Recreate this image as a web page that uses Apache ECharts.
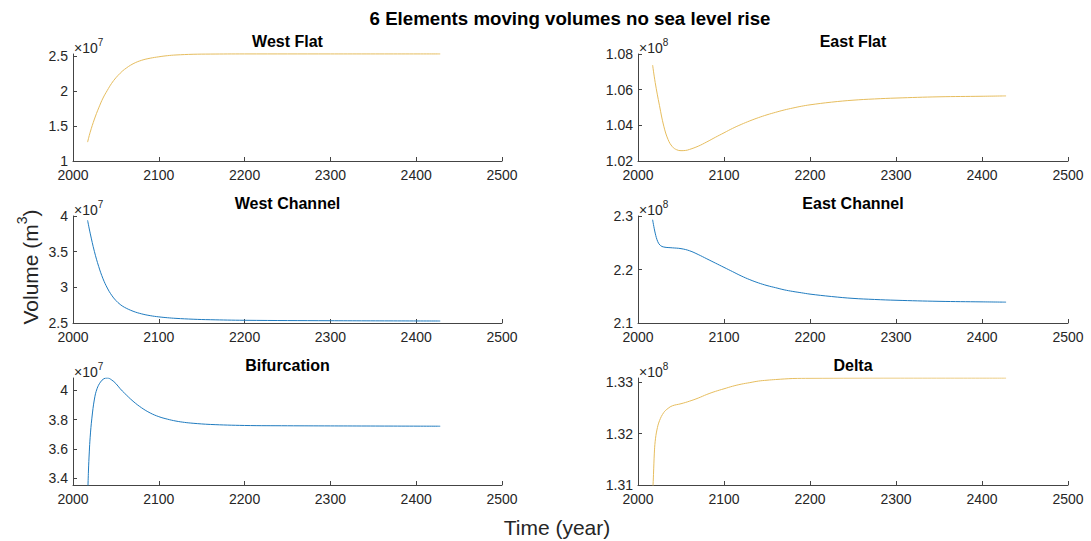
<!DOCTYPE html>
<html>
<head>
<meta charset="utf-8">
<script src="https://cdn.jsdelivr.net/npm/echarts@6/dist/echarts.min.js"></script>
<style>
  html, body { margin: 0; padding: 0; background: #fff; }
  #chart { width: 1091px; height: 541px; }
</style>
</head>
<body>
<div id="chart"></div>
<script>
// Model output: volumes of the six elements (no sea level rise)
// Values are in units of the exponent shown at the top of each axis.

const xTicks = [2000, 2100, 2200, 2300, 2400, 2500];

// West Flat (x 1e7)
const westFlatYears = [2017, 2020, 2025, 2030, 2035, 2040, 2045, 2050, 2055, 2060, 2070, 2080, 2090, 2100, 2110, 2120, 2140, 2160, 2200, 2300, 2428];
const westFlatVol   = [1.27, 1.41, 1.60, 1.76, 1.90, 2.01, 2.11, 2.19, 2.255, 2.31, 2.39, 2.44, 2.47, 2.49, 2.506, 2.516, 2.526, 2.529, 2.531, 2.531, 2.531];
const westFlatTicks = [1, 1.5, 2, 2.5];

// East Flat (x 1e8)
const eastFlatYears = [2017, 2020, 2025, 2030, 2035, 2040, 2045, 2050, 2055, 2060, 2070, 2080, 2090, 2100, 2110, 2120, 2130, 2140, 2150, 2160, 2170, 2180, 2190, 2200, 2225, 2250, 2275, 2300, 2350, 2400, 2428];
const eastFlatVol   = [1.0738, 1.064, 1.051, 1.0395, 1.032, 1.028, 1.0263, 1.0258, 1.0259, 1.0265, 1.0283, 1.0307, 1.0333, 1.0358, 1.0383, 1.0405, 1.0425, 1.0443, 1.0459, 1.0473, 1.0486, 1.0497, 1.0507, 1.0515, 1.0530, 1.0541, 1.0548, 1.0553, 1.0560, 1.0563, 1.0565];
const eastFlatTicks = [1.02, 1.04, 1.06, 1.08];

// West Channel (x 1e7)
const westChanYears = [2017, 2020, 2025, 2030, 2035, 2040, 2045, 2050, 2055, 2060, 2070, 2080, 2090, 2100, 2110, 2120, 2140, 2160, 2200, 2300, 2428];
const westChanVol   = [3.94, 3.76, 3.50, 3.29, 3.12, 2.99, 2.89, 2.815, 2.76, 2.72, 2.665, 2.628, 2.603, 2.586, 2.574, 2.565, 2.553, 2.546, 2.538, 2.532, 2.528];
const westChanTicks = [2.5, 3, 3.5, 4];

// East Channel (x 1e8)
const eastChanYears = [2017, 2020, 2023, 2026, 2030, 2040, 2050, 2060, 2070, 2080, 2090, 2100, 2110, 2120, 2130, 2140, 2150, 2160, 2170, 2180, 2190, 2200, 2225, 2250, 2275, 2300, 2350, 2400, 2428];
const eastChanVol   = [2.293, 2.268, 2.252, 2.245, 2.242, 2.2405, 2.239, 2.235, 2.228, 2.220, 2.212, 2.204, 2.196, 2.188, 2.181, 2.175, 2.170, 2.166, 2.162, 2.159, 2.1565, 2.154, 2.1495, 2.146, 2.144, 2.1425, 2.1405, 2.1395, 2.139];
const eastChanTicks = [2.1, 2.2, 2.3];

// Bifurcation (x 1e7)
const bifYears = [2017, 2018, 2019, 2020, 2022, 2025, 2028, 2032, 2036, 2040, 2045, 2050, 2055, 2060, 2070, 2080, 2090, 2100, 2110, 2120, 2130, 2140, 2160, 2200, 2250, 2300, 2428];
const bifVol   = [3.25, 3.45, 3.58, 3.68, 3.81, 3.94, 4.01, 4.055, 4.078, 4.083, 4.07, 4.045, 4.01, 3.98, 3.925, 3.88, 3.845, 3.82, 3.803, 3.79, 3.781, 3.775, 3.767, 3.76, 3.758, 3.757, 3.755];
const bifTicks = [3.4, 3.6, 3.8, 4];

// Delta (x 1e8)
const deltaYears = [2017, 2018, 2019, 2020, 2022, 2025, 2030, 2035, 2040, 2050, 2060, 2070, 2080, 2090, 2100, 2110, 2120, 2130, 2140, 2150, 2160, 2180, 2200, 2300, 2428];
const deltaVol   = [1.308, 1.312, 1.3162, 1.3185, 1.3207, 1.3225, 1.3241, 1.3249, 1.3254, 1.3258, 1.3263, 1.3269, 1.3276, 1.3282, 1.3287, 1.3292, 1.3296, 1.3299, 1.3302, 1.33037, 1.3305, 1.3307, 1.33075, 1.3308, 1.3308];
const deltaTicks = [1.31, 1.32, 1.33];

const BLUE = '#1f7bbf';
const GOLD = '#e6bd5e';
const FONT = '"Liberation Sans", Arial, Helvetica, sans-serif';
const AXIS_COLOR = '#444444';
const TEXT_COLOR = '#262626';

// Panel layout: two columns, three rows
const colLeft = [73, 638];
const colWidth = [429, 430];
const rowTop = [54, 216, 378];
const rowHeight = 107;

const panels = [
  { title: 'West Flat',    years: westFlatYears, vol: westFlatVol, ticks: westFlatTicks, min: 1,     max: 2.53,   exp: '7', color: GOLD, col: 0, row: 0, clip: false },
  { title: 'East Flat',    years: eastFlatYears, vol: eastFlatVol, ticks: eastFlatTicks, min: 1.02,  max: 1.08,   exp: '8', color: GOLD, col: 1, row: 0, clip: true },
  { title: 'West Channel', years: westChanYears, vol: westChanVol, ticks: westChanTicks, min: 2.5,   max: 4,      exp: '7', color: BLUE, col: 0, row: 1, clip: true },
  { title: 'East Channel', years: eastChanYears, vol: eastChanVol, ticks: eastChanTicks, min: 2.1,   max: 2.3,    exp: '8', color: BLUE, col: 1, row: 1, clip: true },
  { title: 'Bifurcation',  years: bifYears,      vol: bifVol,      ticks: bifTicks,      min: 3.355, max: 4.083,  exp: '7', color: BLUE, col: 0, row: 2, clip: true },
  { title: 'Delta',        years: deltaYears,    vol: deltaVol,    ticks: deltaTicks,    min: 1.31,  max: 1.3308, exp: '8', color: GOLD, col: 1, row: 2, clip: true }
];

const grids = [], xAxes = [], yAxes = [], series = [], texts = [];

panels.forEach((p, i) => {
  const left = colLeft[p.col], top = rowTop[p.row], width = colWidth[p.col];
  grids.push({ left: left, top: top, width: width, height: rowHeight, containLabel: false, outerBoundsMode: 'none' });
  xAxes.push({
    type: 'value', gridIndex: i, min: 2000, max: 2500, interval: 100,
    axisLine: { show: true, onZero: false, lineStyle: { color: AXIS_COLOR, width: 1 } },
    axisTick: { show: true, inside: true, length: 4, lineStyle: { color: AXIS_COLOR } },
    axisLabel: { show: true, margin: 7, color: TEXT_COLOR, fontSize: 14, fontFamily: FONT,
                 customValues: xTicks, formatter: v => String(v) },
    splitLine: { show: false }
  });
  yAxes.push({
    type: 'value', gridIndex: i, min: p.min, max: p.max,
    axisLine: { show: true, onZero: false, lineStyle: { color: AXIS_COLOR, width: 1 } },
    axisTick: { show: true, inside: true, length: 4, lineStyle: { color: AXIS_COLOR }, customValues: p.ticks },
    axisLabel: { show: true, margin: 5, color: TEXT_COLOR, fontSize: 14, fontFamily: FONT,
                 customValues: p.ticks, formatter: v => String(+v.toFixed(4)) },
    splitLine: { show: false }
  });
  series.push({
    type: 'line', xAxisIndex: i, yAxisIndex: i,
    data: p.years.map((y, k) => [y, p.vol[k]]),
    showSymbol: false, smooth: 0.4, clip: p.clip,
    lineStyle: { color: p.color, width: 1 }, itemStyle: { color: p.color },
    silent: true, animation: false
  });
  // subplot title
  texts.push({
    type: 'text', x: left + width / 2, y: top - 12.5,
    style: { text: p.title, font: 'bold 16px ' + FONT, fill: '#000', align: 'center', verticalAlign: 'middle' }
  });
  // axis exponent
  texts.push({
    type: 'text', x: left + 1, y: top - 8,
    style: {
      text: '{a|×10}{b|' + p.exp + '}',
      align: 'left', verticalAlign: 'middle',
      rich: {
        a: { fontSize: 14, fontFamily: FONT, fill: TEXT_COLOR, lineHeight: 18, verticalAlign: 'bottom' },
        b: { fontSize: 10, fontFamily: FONT, fill: TEXT_COLOR, lineHeight: 18, verticalAlign: 'top' }
      }
    }
  });
});

// figure title and shared axis labels
texts.push({
  type: 'text', x: 570, y: 18,
  style: { text: '6 Elements moving volumes no sea level rise', font: 'bold 18.7px ' + FONT, fill: '#000', align: 'center', verticalAlign: 'middle' }
});
texts.push({
  type: 'text', x: 557, y: 527,
  style: { text: 'Time (year)', font: '21px ' + FONT, fill: TEXT_COLOR, align: 'center', verticalAlign: 'middle' }
});
texts.push({
  type: 'text', x: 28, y: 267, rotation: Math.PI / 2,
  style: {
    text: '{a|Volume (m}{b|3}{a|)}', align: 'center', verticalAlign: 'middle',
    rich: {
      a: { fontSize: 21, fontFamily: FONT, fill: TEXT_COLOR, lineHeight: 26, verticalAlign: 'bottom' },
      b: { fontSize: 14, fontFamily: FONT, fill: TEXT_COLOR, lineHeight: 26, verticalAlign: 'top' }
    }
  }
});

const chart = echarts.init(document.getElementById('chart'), null, { renderer: 'svg' });
chart.setOption({
  backgroundColor: '#ffffff',
  animation: false,
  grid: grids,
  xAxis: xAxes,
  yAxis: yAxes,
  series: series,
  graphic: { elements: texts }
});
</script>
</body>
</html>
